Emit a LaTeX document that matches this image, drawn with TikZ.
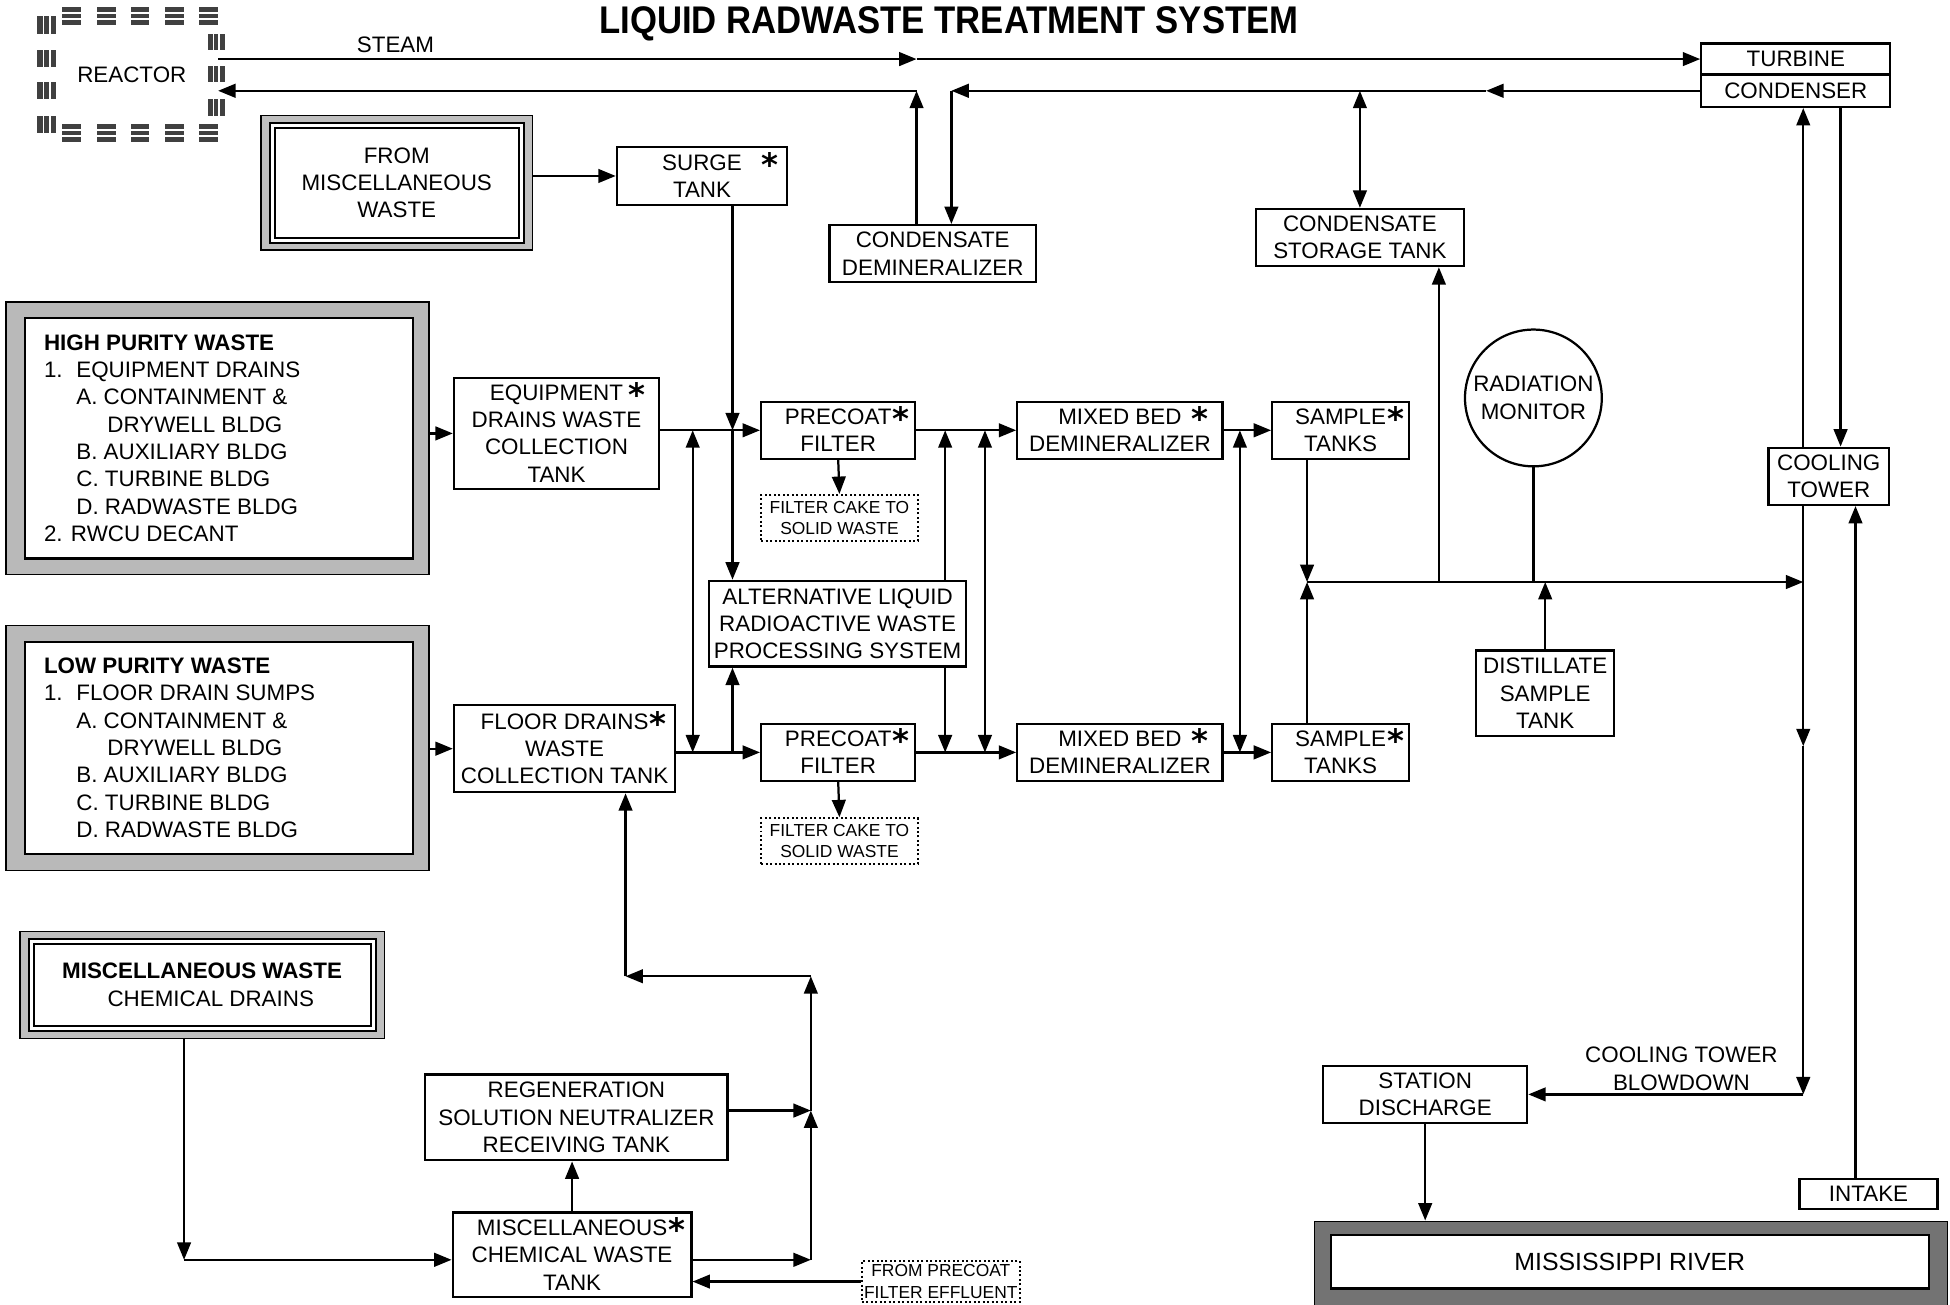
\documentclass[tikz,border=0pt]{standalone}
\usepackage{fontspec}
\setmainfont{Liberation Sans}
\newfontfamily\titlefont[FakeStretch=0.9]{Liberation Sans}
\newfontfamily\astfont{DejaVu Sans}
\usetikzlibrary{arrows.meta}
\newcommand{\starmark}[1][0pt]{\rlap{\hspace{#1}\smash{\raisebox{-2.5pt}{\astfont\bfseries\fontsize{13}{13}\selectfont *}}}}
\begin{document}
\begin{tikzpicture}[x=0.5pt,y=-0.5pt,font=\fontsize{9}{11}\selectfont,
  box/.style={draw,line width=0.9pt,align=center,inner sep=0pt,fill=white},
  dotbox/.style={draw,densely dotted,line width=0.8pt,align=center,inner sep=0pt,fill=white,font=\fontsize{7}{8.5}\selectfont},
  conn/.style={line width=0.9pt},
  arr/.style={conn,-{Triangle[length=7pt,width=5.5pt]}},
  darr/.style={conn,{Triangle[length=7pt,width=5.5pt]}-{Triangle[length=7pt,width=5.5pt]}},
  hatch/.style={fill=black!75},
  stripe/.style={white,line width=0.7pt}]
\fill[white] (0,0) rectangle (1568,1049);
\useasboundingbox (0,0) rectangle (1568,1049);

% title
\node (title) at (763,19) {\titlefont\fontsize{15.5}{15.5}\selectfont\bfseries LIQUID RADWASTE TREATMENT SYSTEM};

% reactor hatched outline
\foreach \x in {50,78,105,133,160}{
  \fill[hatch] (\x,6) rectangle ++(15,14);
  \fill[hatch] (\x,100) rectangle ++(15,14);
  \draw[stripe] (\x,10.7) -- ++(15,0) (\x,15.3) -- ++(15,0);
  \draw[stripe] (\x,104.7) -- ++(15,0) (\x,109.3) -- ++(15,0);
}
\foreach \y in {13,40,66,93}{
  \fill[hatch] (30,\y) rectangle ++(15,14);
  \draw[stripe] (35,\y) -- ++(0,14) (40,\y) -- ++(0,14);
}
\foreach \y in {27,53,80}{
  \fill[hatch] (167,\y) rectangle ++(14,13);
  \draw[stripe] (171.7,\y) -- ++(0,13) (176.3,\y) -- ++(0,13);
}
\node[minimum width=69pt,minimum height=47pt,inner sep=0pt] (reactor) at (106,60) {REACTOR};
\node (steamlbl) at (318,36) {STEAM};

% turbine / condenser
\node[box,minimum width=76pt,minimum height=12.5pt] (turb) at (1444,47.5) {TURBINE};
\node[box,minimum width=76pt,minimum height=13pt] (cond) at (1444,73) {CONDENSER};

% from misc waste frame
\node[draw,fill=gray!50,line width=0.6pt,minimum width=109pt,minimum height=54pt] (mfrom) at (319,147) {};
\node[draw,fill=white,line width=0.8pt,minimum width=102pt,minimum height=48pt] (mfromw) at (319,147) {};
\node[draw,line width=0.8pt,minimum width=98pt,minimum height=44pt,align=center] (mfromi) at (319,147) {FROM\\MISCELLANEOUS\\WASTE};

% upper boxes
\node[box,minimum width=68.5pt,minimum height=23.5pt] (surge) at (564.5,141.5) {SURGE\starmark[8pt]\\TANK};
\node[box,minimum width=83pt,minimum height=23pt] (condemin) at (750,204) {CONDENSATE\\DEMINERALIZER};
\node[box,minimum width=83.5pt,minimum height=23pt] (cst) at (1093.5,191) {CONDENSATE\\STORAGE TANK};

% high purity
\node[draw,fill=gray!55,line width=0.6pt,minimum width=170pt,minimum height=109.5pt] (hp) at (175,352.5) {};
\node[draw,fill=white,line width=0.9pt,minimum width=156pt,minimum height=96.5pt] (hpw) at (176,352.5) {};
\node[anchor=north west,align=left,inner sep=0pt] (hptext) at (35,268.5) {\textbf{HIGH PURITY WASTE}\\
\makebox[13pt][l]{1.}EQUIPMENT DRAINS\\
\hspace*{13pt}A. CONTAINMENT \&\\
\hspace*{25.5pt}DRYWELL BLDG\\
\hspace*{13pt}B. AUXILIARY BLDG\\
\hspace*{13pt}C. TURBINE BLDG\\
\hspace*{13pt}D. RADWASTE BLDG\\
2. RWCU DECANT};

% low purity
\node[draw,fill=gray!55,line width=0.6pt,minimum width=170pt,minimum height=98.5pt] (lp) at (175,601.5) {};
\node[draw,fill=white,line width=0.9pt,minimum width=156pt,minimum height=85.5pt] (lpw) at (176,601.5) {};
\node[anchor=north west,align=left,inner sep=0pt] (lptext) at (35,528.5) {\textbf{LOW PURITY WASTE}\\
\makebox[13pt][l]{1.}FLOOR DRAIN SUMPS\\
\hspace*{13pt}A. CONTAINMENT \&\\
\hspace*{25.5pt}DRYWELL BLDG\\
\hspace*{13pt}B. AUXILIARY BLDG\\
\hspace*{13pt}C. TURBINE BLDG\\
\hspace*{13pt}D. RADWASTE BLDG};

% collection tanks
\node[box,minimum width=82.5pt,minimum height=44.5pt] (equip) at (447.5,348.5) {EQUIPMENT\starmark[2pt]\\DRAINS WASTE\\COLLECTION\\TANK};
\node[box,minimum width=89pt,minimum height=35pt] (floor) at (454,602) {FLOOR DRAINS\starmark[0.5pt]\\WASTE\\COLLECTION TANK};

% process rows
\node[box,minimum width=62pt,minimum height=23pt] (p1) at (674,346) {PRECOAT\starmark[0.5pt]\\FILTER};
\node[box,minimum width=62pt,minimum height=23pt] (p2) at (674,605) {PRECOAT\starmark[0.5pt]\\FILTER};
\node[box,minimum width=82.5pt,minimum height=23pt] (m1) at (900.5,346) {MIXED BED\starmark[4pt]\\DEMINERALIZER};
\node[box,minimum width=82.5pt,minimum height=23pt] (m2) at (900.5,605) {MIXED BED\starmark[4pt]\\DEMINERALIZER};
\node[box,minimum width=55pt,minimum height=23pt] (st1) at (1078,346) {SAMPLE\starmark[0.5pt]\\TANKS};
\node[box,minimum width=55pt,minimum height=23pt] (st2) at (1078,605) {SAMPLE\starmark[0.5pt]\\TANKS};
\node[dotbox,minimum width=63pt,minimum height=18.5pt] (fc1) at (675,416.5) {FILTER CAKE TO\\SOLID WASTE};
\node[dotbox,minimum width=63pt,minimum height=18.5pt] (fc2) at (675,676.5) {FILTER CAKE TO\\SOLID WASTE};
\node[box,minimum width=103.5pt,minimum height=34.5pt] (alt) at (673.5,501.5) {ALTERNATIVE LIQUID\\RADIOACTIVE WASTE\\PROCESSING SYSTEM};

% right side
\node[draw,circle,line width=0.9pt,minimum size=55pt,inner sep=0pt,align=center] (rad) at (1233,320) {RADIATION\\MONITOR};
\node[box,minimum width=55.5pt,minimum height=34.5pt] (dist) at (1242.5,557.5) {DISTILLATE\\SAMPLE\\TANK};
\node[box,minimum width=48.5pt,minimum height=23pt] (ct) at (1470.5,383) {COOLING\\TOWER};
\node[box,minimum width=82pt,minimum height=23pt] (station) at (1146,880) {STATION\\DISCHARGE};
\node[box,minimum width=55.5pt,minimum height=12pt] (intake) at (1502.5,960) {INTAKE};
\node[align=center] (bdl) at (1352,859.5) {COOLING TOWER\\BLOWDOWN};

% river
\node[draw,fill=black!55,line width=0.6pt,minimum width=254.5pt,minimum height=40pt] (river) at (1311.5,1022) {};
\node[draw,fill=white,line width=0.9pt,minimum width=240.5pt,minimum height=21.5pt,font=\fontsize{10}{12}\selectfont] (riverw) at (1310.5,1014.5) {MISSISSIPPI RIVER};

% misc chemical drains
\node[draw,fill=gray!50,line width=0.6pt,minimum width=146.5pt,minimum height=43pt] (mcd) at (162.5,792) {};
\node[draw,fill=white,line width=0.8pt,minimum width=139.5pt,minimum height=37pt] (mcdw) at (162.5,792) {};
\node[draw,line width=0.8pt,minimum width=135.5pt,minimum height=33pt,align=center] (mcdi) at (162.5,792) {\textbf{MISCELLANEOUS WASTE}\\\hspace*{7pt}CHEMICAL DRAINS};

\node[box,minimum width=121.5pt,minimum height=34.5pt] (regen) at (463.5,898.5) {REGENERATION\\SOLUTION NEUTRALIZER\\RECEIVING TANK};
\node[box,minimum width=96pt,minimum height=34pt] (mischem) at (460,1009) {MISCELLANEOUS\starmark[0.5pt]\\CHEMICAL WASTE\\TANK};
\node[dotbox,minimum width=63.5pt,minimum height=16.5pt] (eff) at (756.5,1030.5) {FROM PRECOAT\\FILTER EFFLUENT};

% ---------- coordinates ----------
\coordinate (sm) at (737,47.5);
\coordinate (r1) at (737,73);
\coordinate (r2) at (765,73);
\coordinate (rm) at (1195,73);
\coordinate (s1) at (589,346);
\coordinate (v1) at (557,346);
\coordinate (v2) at (760,346);
\coordinate (v3) at (792,346);
\coordinate (v4) at (997,346);
\coordinate (h1) at (1051,468);
\coordinate (h2) at (1157,468);
\coordinate (jn) at (1450,468);
\coordinate (bd1) at (1450,600);
\coordinate (bd2) at (1450,880);
\coordinate (b1) at (148,1013);
\coordinate (b2) at (652,1013);
\coordinate (b3) at (652,893);
\coordinate (b4) at (652,785);
\coordinate (b5) at (503,785);
\path (ct.north) ++(-20.5,0) coordinate (ctn1);
\path (ct.north) ++(9.5,0) coordinate (ctn2);
\path (ct.south) ++(-20.5,0) coordinate (ctb1);
\path (ct.south) ++(21.5,0) coordinate (ctb2);

% ---------- connectors ----------
% steam and condensate
\draw[arr] (reactor.east |- sm) -- (sm);
\draw[arr] (sm) -- (turb.west);
\draw[arr] (cond.west) -- (rm);
\draw[arr] (rm) -- (r2);
\draw[arr] (r2) -- (condemin.north -| r2);
\draw[arr] (condemin.north -| r1) -- (r1);
\draw[arr] (r1) -- (reactor.east |- r1);
\draw[darr] (cst.north |- r2) -- (cst.north);
% cooling tower loop
\draw[arr] (ctn1) -- (ctn1 |- cond.south);
\draw[arr] (ctn2 |- cond.south) -- (ctn2);
\draw[arr] (ctb1) -- (bd1);
\draw[arr] (bd1) -- (bd2);
\draw[arr] (bd2) -- (station.east);
\draw[arr] (intake.north -| ctb2) -- (ctb2);
\draw[arr] (station.south) -- (station.south |- river.north);
% discharge header
\draw[arr] (st1.south -| h1) -- (h1);
\draw[arr] (st2.north -| h1) -- (h1);
\draw[arr] (h1) -- (jn);
\draw[arr] (h2) -- (h2 |- cst.south);
\draw[conn] (rad.south) -- (rad.south |- h1);
\draw[arr] (dist.north) -- (dist.north |- h1);
% inputs
\draw[arr] (mfrom.east |- surge.west) -- (surge.west);
\draw[arr] (hp.east |- equip.west) -- (equip.west);
\draw[arr] (lp.east |- floor.west) -- (floor.west);
\draw[arr] (surge.south -| s1) -- (s1);
\draw[arr] (s1) -- (alt.north -| s1);
\draw[arr] (equip.east |- p1.west) -- (p1.west);
\draw[arr] (floor.east |- p2.west) -- (p2.west);
\draw[darr] (v1) -- (v1 |- p2.west);
\draw[arr] (s1 |- p2.west) -- (alt.south -| s1);
% filters to demineralizers
\draw[arr] (p1.east) -- (m1.west);
\draw[arr] (p2.east) -- (m2.west);
\draw[arr] (alt.north -| v2) -- (v2);
\draw[arr] (alt.south -| v2) -- (v2 |- p2.east);
\draw[darr] (v3) -- (v3 |- p2.east);
\draw[arr] (m1.east) -- (st1.west);
\draw[arr] (m2.east) -- (st2.west);
\draw[darr] (v4) -- (v4 |- m2.east);
\draw[arr] (p1.south) -- (fc1.north);
\draw[arr] (p2.south) -- (fc2.north);
% miscellaneous chemical
\draw[arr] (b1 |- mcd.south) -- (b1);
\draw[arr] (b1) -- (mischem.west |- b1);
\draw[arr] (mischem.north) -- (regen.south -| mischem.north);
\draw[arr] (mischem.east |- b2) -- (b2);
\draw[arr] (regen.east |- b3) -- (b3);
\draw[arr] (b2) -- (b3);
\draw[arr] (b3) -- (b4);
\draw[arr] (b4) -- (b5);
\draw[arr] (b5) -- (floor.south -| b5);
\draw[arr] (eff.west) -- (mischem.east |- eff.west);
\end{tikzpicture}
\end{document}
